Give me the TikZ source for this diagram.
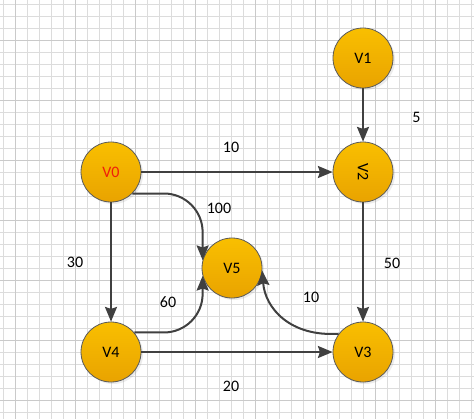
\documentclass[tikz,border=0pt]{standalone}
\usepackage{fontspec}
\setmainfont{Carlito}
\usetikzlibrary{arrows.meta,shadows}
\definecolor{gridminor}{HTML}{DCDCDC}
\definecolor{gridmajor}{HTML}{CACACA}
\definecolor{nodetop}{HTML}{F9BF00}
\definecolor{nodebot}{HTML}{E9A300}
\definecolor{nodeborder}{HTML}{5A5A5A}
\definecolor{edgecol}{HTML}{404040}
\definecolor{redtext}{HTML}{F01E0A}
\tikzset{
  vertex/.style={circle, minimum size=45pt, inner sep=0pt, draw=nodeborder, line width=0.6pt,
    top color=nodetop, bottom color=nodebot,
    drop shadow={opacity=0.15, shadow xshift=1.5pt, shadow yshift=-1.5pt},
    font=\fontsize{12}{14}\selectfont},
  edge/.style={draw=edgecol, line width=1.5pt, -{Stealth[length=11pt,width=9pt,inset=1.5pt]}},
  wlabel/.style={font=\fontsize{12}{14}\selectfont, text=black, inner sep=0pt},
  minorline/.style={draw=gridminor, line width=0.75pt},
  majorline/.style={draw=gridmajor, line width=0.75pt},
}
\begin{document}
\begin{tikzpicture}[x=0.75pt, y=-0.75pt]
\useasboundingbox (0,0) rectangle (474,419);
\fill[white] (0,0) rectangle (474,419);
% grid
\foreach \k in {0,...,39} { \draw[minorline] ({3.5+12*\k},0) -- ({3.5+12*\k},419); }
\foreach \k in {0,...,34} { \draw[minorline] (0,{4.3+12*\k}) -- (474,{4.3+12*\k}); }
\foreach \k in {0,...,7} { \draw[majorline] ({15.5+60*\k},0) -- ({15.5+60*\k},419); }
\foreach \k in {0,...,6} { \draw[majorline] (0,{40.3+60*\k}) -- (474,{40.3+60*\k}); }
% vertices
\node[vertex, text=redtext] (V0) at (111,172) {V0};
\node[vertex] (V1) at (363,58) {V1};
\node[vertex] (V2) at (363,172) {\rotatebox{-90}{V2}};
\node[vertex] (V3) at (363,352) {V3};
\node[vertex] (V4) at (111,352) {V4};
\node[vertex] (V5) at (232,268) {V5};
% edges
\draw[edge] (V1) -- (V2);
\draw[edge] (V0) -- (V2);
\draw[edge] (V2) -- (V3);
\draw[edge] (V0) -- (V4);
\draw[edge] (V4) -- (V3);
\draw[edge, rounded corners=29pt] (V0.-45) -- (V0.-45 -| V5.165) -- (V5.165);
\draw[edge, rounded corners=29pt] (V4.40) -- (V4.40 -| V5.195) -- (V5.195);
\draw[edge] (V3.143) .. controls (290,337) and (265,308) .. (V5.-5);
% weights
\node[wlabel] (w02) at (231,147) {10};
\node[wlabel] (w12) at (416.5,117) {5};
\node[wlabel] (w05) at (219,208) {100};
\node[wlabel] (w04) at (75,262) {30};
\node[wlabel] (w23) at (392,263) {50};
\node[wlabel] (w45) at (168,302) {60};
\node[wlabel] (w35) at (311,297.5) {10};
\node[wlabel] (w43) at (231,386) {20};
\end{tikzpicture}
\end{document}
